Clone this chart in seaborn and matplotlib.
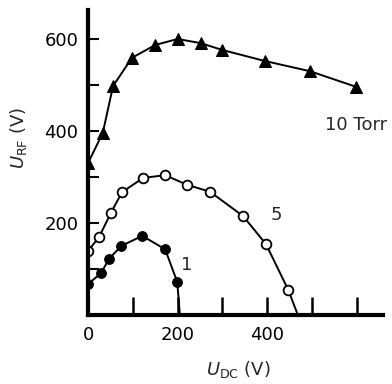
import matplotlib
matplotlib.use("Agg")
import matplotlib.pyplot as plt
import seaborn as sns
import pandas as pd

# Data
x10 = [0, 33, 56, 98, 150, 200, 251, 300, 395, 495, 598]
y10 = [330, 396, 498, 559, 587, 600, 591, 576, 552, 530, 496]

x5 = [0, 25, 51, 76, 123, 172, 221, 272, 346, 397, 447]
y5 = [139, 170, 222, 267, 298, 304, 283, 268, 215, 154, 54]
x5_end = [468]
y5_end = [0]

x1 = [0, 29, 47, 74, 121, 172, 199]
y1 = [67, 91, 122, 150, 172, 143, 72]
x1_end = [205]
y1_end = [0]

xticks = [0, 100, 200, 300, 400, 500, 600]
xticklabels = ["0", "", "200", "", "400", "", ""]
yticks = [100, 200, 300, 400, 500, 600]
yticklabels = ["", "200", "", "400", "", "600"]

sns.set_style("white")
plt.rcParams["font.family"] = ["DejaVu Sans"]

fig = plt.figure(figsize=(3.92, 3.84), dpi=100)
ax = fig.add_axes([88/392, 1-315/384, (383-88)/392, (315-10)/384])

d10 = pd.DataFrame({"x": x10, "y": y10})
d5 = pd.DataFrame({"x": x5, "y": y5})
d1 = pd.DataFrame({"x": x1, "y": y1})
l5 = pd.DataFrame({"x": x5 + x5_end, "y": y5 + y5_end})
l1 = pd.DataFrame({"x": x1 + x1_end, "y": y1 + y1_end})

sns.lineplot(data=d10, x="x", y="y", ax=ax, color="black", lw=1.4, marker="^",
             markersize=9, markerfacecolor="black", markeredgecolor="black", sort=False)
sns.lineplot(data=l5, x="x", y="y", ax=ax, color="black", lw=1.4, sort=False)
sns.lineplot(data=d5, x="x", y="y", ax=ax, color="black", lw=0, marker="o",
             markersize=7, markerfacecolor="white", markeredgecolor="black",
             markeredgewidth=1.3, sort=False)
sns.lineplot(data=l1, x="x", y="y", ax=ax, color="black", lw=1.4, sort=False)
sns.lineplot(data=d1, x="x", y="y", ax=ax, color="black", lw=0, marker="o",
             markersize=7, markerfacecolor="black", markeredgecolor="black", sort=False)

ax.set_xlim(0, 658)
ax.set_ylim(0, 663)
for s in ["top", "right"]:
    ax.spines[s].set_visible(False)
for s in ["left", "bottom"]:
    ax.spines[s].set_linewidth(3)
    ax.spines[s].set_color("black")

ax.set_xticks(xticks)
ax.set_xticklabels(xticklabels, fontsize=13)
ax.set_yticks(yticks)
ax.set_yticklabels(yticklabels, fontsize=13)
ax.tick_params(axis="x", bottom=True, direction="in", length=13, width=1.8, pad=8, colors="black")
ax.tick_params(axis="y", left=True, direction="in", length=8, width=1.5, pad=7, colors="black")

ax.set_xlabel(r"$U_{\mathrm{DC}}$ (V)", fontsize=13)
ax.set_ylabel(r"$U_{\mathrm{RF}}$ (V)", fontsize=13)
ax.xaxis.set_label_coords(0.51, -0.145)
ax.yaxis.set_label_coords(-0.2, 0.58)

ax.text(529, 413, "10 Torr", fontsize=13, va="center", ha="left", clip_on=False)
ax.text(420, 217, "5", fontsize=13, va="center", ha="center")
ax.text(221, 109, "1", fontsize=13, va="center", ha="center")

fig.savefig("out.png", dpi=100)
